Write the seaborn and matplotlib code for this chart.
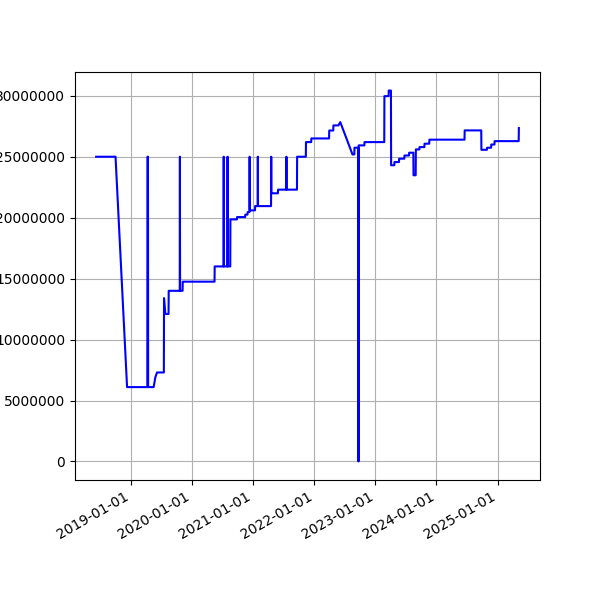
import matplotlib
matplotlib.use("Agg")
import matplotlib.pyplot as plt
import matplotlib.dates as mdates
import pandas as pd
import seaborn as sns

dates = [
    "2018-06-06", "2018-09-30", "2018-12-08",
    "2019-04-08", "2019-04-09", "2019-04-12", "2019-04-13",
    "2019-05-16", "2019-05-26", "2019-06-05",
    "2019-07-16", "2019-07-17", "2019-07-25", "2019-08-13", "2019-08-14",
    "2019-10-19", "2019-10-20", "2019-10-21", "2019-11-05", "2019-11-06",
    "2020-05-14", "2020-05-15",
    "2020-07-07", "2020-07-08", "2020-07-09",
    "2020-07-30", "2020-07-31", "2020-08-01",
    "2020-08-16", "2020-08-17", "2020-09-25", "2020-09-26",
    "2020-11-13", "2020-11-14", "2020-11-27", "2020-11-28",
    "2020-12-09", "2020-12-10", "2020-12-11",
    "2021-01-11", "2021-01-12",
    "2021-01-27", "2021-01-28", "2021-01-29",
    "2021-04-17", "2021-04-18", "2021-04-19",
    "2021-05-28", "2021-05-29",
    "2021-07-17", "2021-07-18", "2021-07-19",
    "2021-09-19", "2021-09-20",
    "2021-11-11", "2021-11-12", "2021-12-13", "2021-12-14",
    "2022-03-30", "2022-03-31", "2022-04-24", "2022-04-25",
    "2022-05-25", "2022-06-05", "2022-08-17",
    "2022-08-28", "2022-08-29",
    "2022-09-21", "2022-09-22", "2022-09-23",
    "2022-10-27", "2022-10-28",
    "2023-02-23", "2023-02-24", "2023-03-21", "2023-03-22",
    "2023-04-04", "2023-04-05",
    "2023-04-24", "2023-04-25", "2023-05-22", "2023-05-23",
    "2023-06-23", "2023-06-24", "2023-07-21", "2023-07-22",
    "2023-08-16", "2023-08-17", "2023-08-30", "2023-08-31",
    "2023-09-21", "2023-09-22", "2023-10-21", "2023-10-22",
    "2023-11-19", "2023-11-20",
    "2024-06-17", "2024-06-18",
    "2024-09-25", "2024-09-26", "2024-10-29", "2024-10-30",
    "2024-11-23", "2024-11-24", "2024-12-13", "2024-12-14",
    "2025-05-07", "2025-05-08",
]

values_millions = [
    25.0, 25.0, 6.1,
    6.1, 25.0, 25.0, 6.1,
    6.1, 6.9, 7.3,
    7.3, 13.4, 12.1, 12.1, 14.0,
    14.0, 25.0, 14.0, 14.0, 14.75,
    14.75, 16.0,
    16.0, 25.0, 16.0,
    16.0, 25.0, 16.0,
    16.0, 19.86, 19.86, 20.05,
    20.05, 20.25, 20.25, 20.46,
    20.46, 25.0, 20.6,
    20.6, 20.95,
    20.95, 25.0, 20.95,
    20.95, 25.0, 22.0,
    22.0, 22.3,
    22.3, 25.0, 22.3,
    22.3, 25.0,
    25.0, 26.2, 26.2, 26.5,
    26.5, 27.15, 27.15, 27.57,
    27.57, 27.84, 25.19,
    25.19, 25.74,
    25.74, 0.0, 25.93,
    25.93, 26.2,
    26.2, 29.97, 29.97, 30.43,
    30.43, 24.3,
    24.3, 24.56, 24.56, 24.84,
    24.84, 25.1, 25.1, 25.33,
    25.33, 23.48, 23.48, 25.6,
    25.6, 25.79, 25.79, 26.07,
    26.07, 26.4,
    26.4, 27.16,
    27.16, 25.57, 25.57, 25.74,
    25.74, 26.0, 26.0, 26.28,
    26.28, 27.35,
]

df = pd.DataFrame({
    "date": pd.to_datetime(dates),
    "value": [v * 1_000_000 for v in values_millions],
})

fig, ax = plt.subplots(figsize=(6, 6), dpi=100)
sns.lineplot(data=df, x="date", y="value", ax=ax, color="blue",
             linewidth=1.5, estimator=None, sort=False)
ax.set_xlabel("")
ax.set_ylabel("")
ax.grid(True, color="#b0b0b0", linewidth=0.8)
ax.xaxis.set_major_locator(mdates.YearLocator())
ax.xaxis.set_major_formatter(mdates.DateFormatter("%Y-%m-%d"))
ax.ticklabel_format(axis="y", style="plain", useOffset=False)
fig.autofmt_xdate()
fig.savefig("out.png", dpi=100)
